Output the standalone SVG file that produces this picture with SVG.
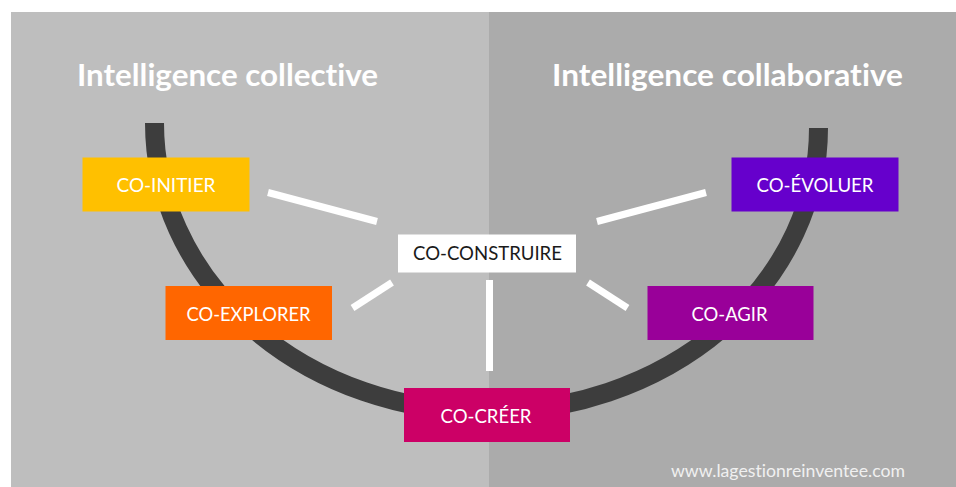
<svg xmlns="http://www.w3.org/2000/svg" width="956" height="487" viewBox="0 0 956 487">
<style>
text{font-family:"Lato","Liberation Sans",sans-serif;text-anchor:middle;fill:#fff;font-variant-ligatures:none}
.title{font-size:30px;font-weight:700}
.label{font-size:18.500px}
.box{stroke:none}
.link{stroke:#fff;stroke-width:7;fill:none}
</style>
<rect width="956" height="487" fill="#fff"/>
<rect x="11" y="12" width="478" height="475" fill="#bebebe"/>
<rect x="489" y="12" width="467" height="475" fill="#ababab"/>
<text class="title" x="227.500" y="85.500" textLength="301" lengthAdjust="spacingAndGlyphs">Intelligence collective</text>
<text class="title" x="727.500" y="85.500" textLength="351" lengthAdjust="spacingAndGlyphs">Intelligence collaborative</text>
<g id="connectors">
<path id="arc" d="M154.500 123A332 289 0 0 0 486 412A332 284 0 0 0 818.500 128" fill="none" stroke="#3d3d3d" stroke-width="19"/>
<path class="link" d="M268 192.500L377 221.500"/>
<path class="link" d="M706 192.500L597 221.500"/>
<path class="link" d="M392 282.500L352.500 308"/>
<path class="link" d="M588 282.500L627.500 308"/>
<path class="link" d="M489.500 280V371"/>
</g>
<g id="co-initier"><rect class="box" x="82.500" y="157.500" width="167" height="54" fill="#ffc000"/><text class="label" x="166" y="192" textLength="99" lengthAdjust="spacingAndGlyphs">CO-INITIER</text></g>
<g id="co-evoluer"><rect class="box" x="731.500" y="157.500" width="167" height="54" fill="#6600cc"/><text class="label" x="815" y="192" textLength="117" lengthAdjust="spacingAndGlyphs">CO-ÉVOLUER</text></g>
<g id="co-explorer"><rect class="box" x="165.500" y="286" width="166.500" height="54" fill="#ff6600"/><text class="label" x="248.500" y="321" textLength="124" lengthAdjust="spacingAndGlyphs">CO-EXPLORER</text></g>
<g id="co-agir"><rect class="box" x="647.500" y="286" width="166" height="54" fill="#990099"/><text class="label" x="729.500" y="321" textLength="76" lengthAdjust="spacingAndGlyphs">CO-AGIR</text></g>
<g id="co-creer"><rect class="box" x="404" y="388" width="166" height="54" fill="#cc0066"/><text class="label" x="486" y="423" textLength="91" lengthAdjust="spacingAndGlyphs">CO-CRÉER</text></g>
<g id="co-construire"><rect class="box" x="398" y="234.500" width="178" height="38" fill="#fff"/><text class="label" x="487.500" y="260" textLength="149" lengthAdjust="spacingAndGlyphs" style="fill:#1a1a1a">CO-CONSTRUIRE</text></g>
<text x="788" y="477" font-size="17.500" textLength="234" lengthAdjust="spacingAndGlyphs" style="fill:#f0f0f0">www.lagestionreinventee.com</text>
</svg>
